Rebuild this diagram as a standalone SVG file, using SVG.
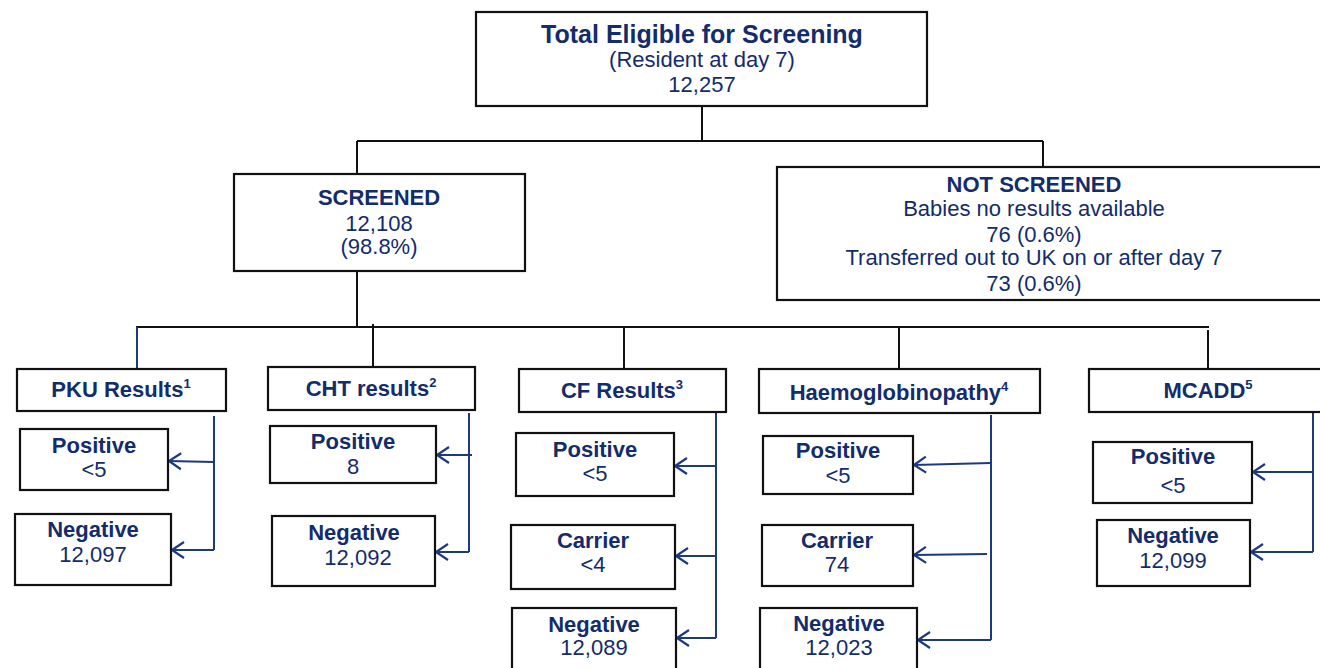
<svg xmlns="http://www.w3.org/2000/svg" width="1320" height="668" viewBox="0 0 1320 668">
  <style>
    .box { fill: #ffffff; stroke: #111111; stroke-width: 2.2; }
    .t { font-family: "Liberation Sans", Arial, sans-serif; fill: #132c6b; text-anchor: middle; font-size: 22px; }
    .b { font-weight: bold; }
    .conn { stroke: #111111; stroke-width: 2; fill: none; }
    .br { stroke: #1c3a80; stroke-width: 2; fill: none; }
    .arr { stroke: #1c3a80; stroke-width: 2; fill: none; }
    .sup { font-size: 13px; }
  </style>
  <defs>
    <marker id="chev" viewBox="-15 -11 17 22" markerWidth="17" markerHeight="22" refX="0" refY="0" orient="auto" markerUnits="userSpaceOnUse" overflow="visible">
      <path d="M-12,-8 L0,0 L-12,8" fill="none" stroke="#1c3a80" stroke-width="2.2"/>
    </marker>
  </defs>

  <rect width="1320" height="668" fill="#ffffff"/>

  <!-- connectors -->
  <g id="connectors">
    <path class="conn" d="M702,106 L702,141 M357,141 L1043,141 M357,141 L357,174 M1043,141 L1043,167"/>
    <path class="conn" d="M357,271 L357,328 M136,327 L1209,327 M373,324 L373,367 M624,327 L624,369 M899,327 L899,369 M1208,330 L1208,369"/>
    <path class="br" d="M137,327 L137,369"/>
    <!-- PKU -->
    <path class="br" d="M214,416 L214,550"/>
    <path class="arr" marker-end="url(#chev)" d="M214,462 L169,461"/>
    <path class="arr" marker-end="url(#chev)" d="M214,550 L172,550"/>
    <!-- CHT -->
    <path class="br" d="M469,413 L469,552"/>
    <path class="arr" marker-end="url(#chev)" d="M472,455 L437,455"/>
    <path class="arr" marker-end="url(#chev)" d="M469,552 L436,552"/>
    <!-- CF -->
    <path class="br" d="M716,412 L716,638"/>
    <path class="arr" marker-end="url(#chev)" d="M716,466 L675,466"/>
    <path class="arr" marker-end="url(#chev)" d="M717,556 L676,556"/>
    <path class="arr" marker-end="url(#chev)" d="M716,638 L677,638"/>
    <!-- Haemoglobinopathy -->
    <path class="br" d="M991,415 L991,640"/>
    <path class="arr" marker-end="url(#chev)" d="M991,463 L914,465"/>
    <path class="arr" marker-end="url(#chev)" d="M987,554 L914,555"/>
    <path class="arr" marker-end="url(#chev)" d="M991,640 L918,640"/>
    <!-- MCADD -->
    <path class="br" d="M1313,412 L1313,552"/>
    <path class="arr" marker-end="url(#chev)" d="M1313,472 L1253,472"/>
    <path class="arr" marker-end="url(#chev)" d="M1313,552 L1251,552"/>
  </g>

  <g id="total">
    <rect class="box" x="476" y="12" width="451" height="94"/>
    <text class="t b" x="702" y="43" style="font-size:25px">Total Eligible for Screening</text>
    <text class="t" x="702" y="67">(Resident at day 7)</text>
    <text class="t" x="702" y="92">12,257</text>
  </g>

  <g id="screened">
    <rect class="box" x="234" y="174" width="291" height="97"/>
    <text class="t b" x="379" y="205">SCREENED</text>
    <text class="t" x="379" y="231">12,108</text>
    <text class="t" x="379" y="254">(98.8%)</text>
  </g>

  <g id="not-screened">
    <rect class="box" x="777" y="167" width="560" height="133"/>
    <text class="t b" x="1034" y="192">NOT SCREENED</text>
    <text class="t" x="1034" y="216">Babies no results available</text>
    <text class="t" x="1034" y="242">76 (0.6%)</text>
    <text class="t" x="1034" y="265">Transferred out to UK on or after day 7</text>
    <text class="t" x="1034" y="291">73 (0.6%)</text>
  </g>

  <g id="pku">
    <rect class="box" x="17" y="369" width="209" height="42"/>
    <text class="t b" x="121" y="397">PKU Results<tspan class="sup" dy="-9">1</tspan></text>
  </g>
  <g id="pku-positive">
    <rect class="box" x="20" y="429" width="148" height="61"/>
    <text class="t b" x="94" y="453">Positive</text>
    <text class="t" x="94" y="477">&lt;5</text>
  </g>
  <g id="pku-negative">
    <rect class="box" x="15" y="514" width="156" height="71"/>
    <text class="t b" x="93" y="537">Negative</text>
    <text class="t" x="93" y="562">12,097</text>
  </g>

  <g id="cht">
    <rect class="box" x="268" y="367" width="207" height="43"/>
    <text class="t b" x="371" y="396">CHT results<tspan class="sup" dy="-9">2</tspan></text>
  </g>
  <g id="cht-positive">
    <rect class="box" x="270" y="426" width="166" height="57"/>
    <text class="t b" x="353" y="449">Positive</text>
    <text class="t" x="353" y="474">8</text>
  </g>
  <g id="cht-negative">
    <rect class="box" x="272" y="516" width="163" height="70"/>
    <text class="t b" x="354" y="540">Negative</text>
    <text class="t" x="358" y="565">12,092</text>
  </g>

  <g id="cf">
    <rect class="box" x="519" y="369" width="207" height="43"/>
    <text class="t b" x="622" y="398">CF Results<tspan class="sup" dy="-9">3</tspan></text>
  </g>
  <g id="cf-positive">
    <rect class="box" x="516" y="433" width="158" height="63"/>
    <text class="t b" x="595" y="457">Positive</text>
    <text class="t" x="595" y="481">&lt;5</text>
  </g>
  <g id="cf-carrier">
    <rect class="box" x="511" y="525" width="164" height="64"/>
    <text class="t b" x="593" y="548">Carrier</text>
    <text class="t" x="593" y="572">&lt;4</text>
  </g>
  <g id="cf-negative">
    <rect class="box" x="512" y="608" width="164" height="64"/>
    <text class="t b" x="594" y="632">Negative</text>
    <text class="t" x="594" y="655">12,089</text>
  </g>

  <g id="haemoglobinopathy">
    <rect class="box" x="759" y="369" width="281" height="44"/>
    <text class="t b" x="899" y="400">Haemoglobinopathy<tspan class="sup" dy="-9">4</tspan></text>
  </g>
  <g id="hb-positive">
    <rect class="box" x="763" y="436" width="150" height="58"/>
    <text class="t b" x="838" y="458">Positive</text>
    <text class="t" x="838" y="483">&lt;5</text>
  </g>
  <g id="hb-carrier">
    <rect class="box" x="762" y="525" width="151" height="61"/>
    <text class="t b" x="837" y="548">Carrier</text>
    <text class="t" x="837" y="572">74</text>
  </g>
  <g id="hb-negative">
    <rect class="box" x="760" y="608" width="157" height="64"/>
    <text class="t b" x="839" y="631">Negative</text>
    <text class="t" x="839" y="655">12,023</text>
  </g>

  <g id="mcadd">
    <rect class="box" x="1089" y="369" width="250" height="43"/>
    <text class="t b" x="1208" y="398">MCADD<tspan class="sup" dy="-9">5</tspan></text>
  </g>
  <g id="mcadd-positive">
    <rect class="box" x="1093" y="442" width="159" height="61"/>
    <text class="t b" x="1173" y="464">Positive</text>
    <text class="t" x="1173" y="493">&lt;5</text>
  </g>
  <g id="mcadd-negative">
    <rect class="box" x="1097" y="520" width="153" height="66"/>
    <text class="t b" x="1173" y="543">Negative</text>
    <text class="t" x="1173" y="568">12,099</text>
  </g>
</svg>
